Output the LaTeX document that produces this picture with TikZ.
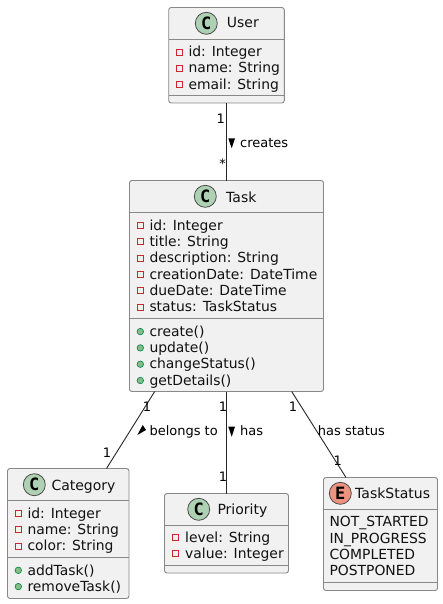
\documentclass[tikz,border=0pt]{standalone}
\usepackage{fontspec}
\usetikzlibrary{calc}
\setmainfont{DejaVu Sans}
\newfontfamily\spotfont{DejaVu Sans Mono}
\definecolor{boxfill}{HTML}{F1F1F1}
\definecolor{boxline}{HTML}{888888}
\definecolor{inktext}{HTML}{111111}
\definecolor{classc}{HTML}{ADD1B2}
\definecolor{enumc}{HTML}{EB937F}
\definecolor{privc}{HTML}{C82930}
\definecolor{pubf}{HTML}{84BE84}
\definecolor{pubd}{HTML}{038048}
\tikzset{
  classbox/.style={draw=boxline,fill=boxfill,line width=0.9pt,rounded corners=2.5pt,minimum width=#1,inner sep=0pt,outer sep=0pt,anchor=north west},
  divider/.style={draw=boxline,line width=0.9pt},
  spot/.style={circle,draw=black!70,line width=0.8pt,minimum size=22pt,inner sep=0pt,font=\spotfont\fontsize{17}{17}\selectfont\bfseries,text=black},
  title/.style={anchor=base west,inner sep=0pt,font=\fontsize{14}{14}\selectfont,text=inktext},
  member/.style={anchor=base west,inner sep=0pt,font=\fontsize{13.9}{14}\selectfont,text=inktext},
  lbl/.style={anchor=base west,inner sep=0pt,font=\fontsize{13}{13}\selectfont,text=black},
  mult/.style={anchor=base east,inner sep=0pt,font=\fontsize{13}{13}\selectfont,text=black},
  assoc/.style={draw=black!85,line width=0.9pt},
  privmark/.style={rectangle,draw=privc,fill=boxfill,line width=0.9pt,minimum size=6pt,inner sep=0pt},
  pubmark/.style={circle,draw=pubd,fill=pubf,line width=0.6pt,minimum size=6.5pt,inner sep=0pt},
  dirtri/.style={fill=black,draw=none}
}
\newcommand{\privrow}[5]{% name, marker x, text x, baseline, text
  \node[privmark] (#1m) at (#2,#4-4.7) {};
  \node[member] (#1) at (#3,#4) {#5};}
\newcommand{\pubrow}[5]{%
  \node[pubmark] (#1m) at (#2,#4-4.7) {};
  \node[member] (#1) at (#3,#4) {#5};}
\begin{document}
\begin{tikzpicture}[x=1pt,y=-1pt]
\useasboundingbox (0,0) rectangle (443,604);
\fill[white] (0,0) rectangle (443,604);

% boxes
\node[classbox=115.6pt,minimum height=95.5pt] (user) at (168.7,7.5) {};
\node[classbox=194pt,minimum height=211pt] (task) at (129.5,180.5) {};
\node[classbox=121.5pt,minimum height=130pt] (category) at (7.5,468.5) {};
\node[classbox=124pt,minimum height=79.5pt] (priority) at (164.5,493.5) {};
\node[classbox=114pt,minimum height=113pt] (taskstatus) at (323.5,477.5) {};

% connectors
\coordinate (taskA) at ($(task.south west)+(25.2,0)$);
\coordinate (taskC) at ($(task.south west)+(162.2,0)$);
\coordinate (catT) at ($(category.north west)+(99,0)$);
\coordinate (tsT) at ($(taskstatus.north west)+(22.5,0)$);
\draw[assoc] (user.south) -- (task.north);
\draw[assoc] (taskA) -- (catT);
\draw[assoc] (task.south) -- (priority.north);
\draw[assoc] (taskC) -- (tsT);

% dividers
\draw[divider] (168.7,39.5) -- (284.3,39.5) (168.7,95.5) -- (284.3,95.5);
\draw[divider] (129.5,212.5) -- (323.5,212.5) (129.5,318.7) -- (323.5,318.7);
\draw[divider] (7.5,500.5) -- (129,500.5) (7.5,557.5) -- (129,557.5);
\draw[divider] (164.5,525.5) -- (288.5,525.5) (164.5,565.5) -- (288.5,565.5);
\draw[divider] (323.5,509.5) -- (437.5,509.5) (323.5,582.5) -- (437.5,582.5);

% User
\node[spot,fill=classc] (userspot) at (206.3,23.3) {C};
\node[title] (usertitle) at (226.7,28) {User};
\privrow{u1}{179.3}{188.3}{56.7}{id: Integer}
\privrow{u2}{179.3}{188.3}{73}{name: String}
\privrow{u3}{179.3}{188.3}{89.3}{email: String}

% Task
\node[spot,fill=classc] (taskspot) at (205.3,196.3) {C};
\node[title] (tasktitle) at (226,202.3) {Task};
\privrow{t1}{140.3}{149.3}{230.3}{id: Integer}
\privrow{t2}{140.3}{149.3}{246.6}{title: String}
\privrow{t3}{140.3}{149.3}{262.9}{description: String}
\privrow{t4}{140.3}{149.3}{279.2}{creationDate: DateTime}
\privrow{t5}{140.3}{149.3}{295.5}{dueDate: DateTime}
\privrow{t6}{140.3}{149.3}{311.8}{status: TaskStatus}
\pubrow{t7}{140.3}{149.3}{336.3}{create()}
\pubrow{t8}{140.3}{149.3}{352.6}{update()}
\pubrow{t9}{140.3}{149.3}{368.9}{changeStatus()}
\pubrow{t10}{140.3}{149.3}{385.2}{getDetails()}

% Category
\node[spot,fill=classc] (catspot) at (34.3,484.7) {C};
\node[title] (cattitle) at (51.3,490.7) {Category};
\privrow{c1}{18.3}{27.3}{518.3}{id: Integer}
\privrow{c2}{18.3}{27.3}{534.6}{name: String}
\privrow{c3}{18.3}{27.3}{550.9}{color: String}
\pubrow{c4}{18.3}{27.3}{575}{addTask()}
\pubrow{c5}{18.3}{27.3}{591.3}{removeTask()}

% Priority
\node[spot,fill=classc] (prispot) at (198.7,509.3) {C};
\node[title] (prititle) at (217.3,514.7) {Priority};
\privrow{p1}{175.3}{185}{542.3}{level: String}
\privrow{p2}{175.3}{185}{558.6}{value: Integer}

% TaskStatus
\node[spot,fill=enumc] (tsspot) at (340.3,493.3) {E};
\node[title] (tstitle) at (355,498.3) {TaskStatus};
\node[member] (s1) at (329.3,526.7) {NOT\_STARTED};
\node[member] (s2) at (329.3,543) {IN\_PROGRESS};
\node[member] (s3) at (329.3,559.3) {COMPLETED};
\node[member] (s4) at (329.3,575.6) {POSTPONED};

% labels
\node[mult] (m1) at (225,124) {1};
\node[mult] (m2) at (226,168) {*};
\node[lbl] (l1) at (240,147) {creates};
\fill[dirtri] (228.3,138.3) -- (235,138.3) -- (231.7,148.3) -- cycle;

\node[lbl] (m3) at (142.7,411.7) {1};
\node[lbl] (m4) at (102.7,457.7) {1};
\node[lbl] (l2) at (149.3,435) {belongs to};
\fill[dirtri] (137.3,435) -- (142.7,425) -- (146,430) -- cycle;

\node[lbl] (m5) at (218.7,411.7) {1};
\node[lbl] (m6) at (218.7,481.7) {1};
\node[lbl] (l3) at (240,435) {has};
\fill[dirtri] (228.3,426.7) -- (235,426.7) -- (231.7,436.7) -- cycle;

\node[lbl] (m7) at (288.7,411.7) {1};
\node[lbl] (m8) at (333.3,465) {1};
\node[lbl] (l4) at (317.7,435) {has status};
\end{tikzpicture}
\end{document}
